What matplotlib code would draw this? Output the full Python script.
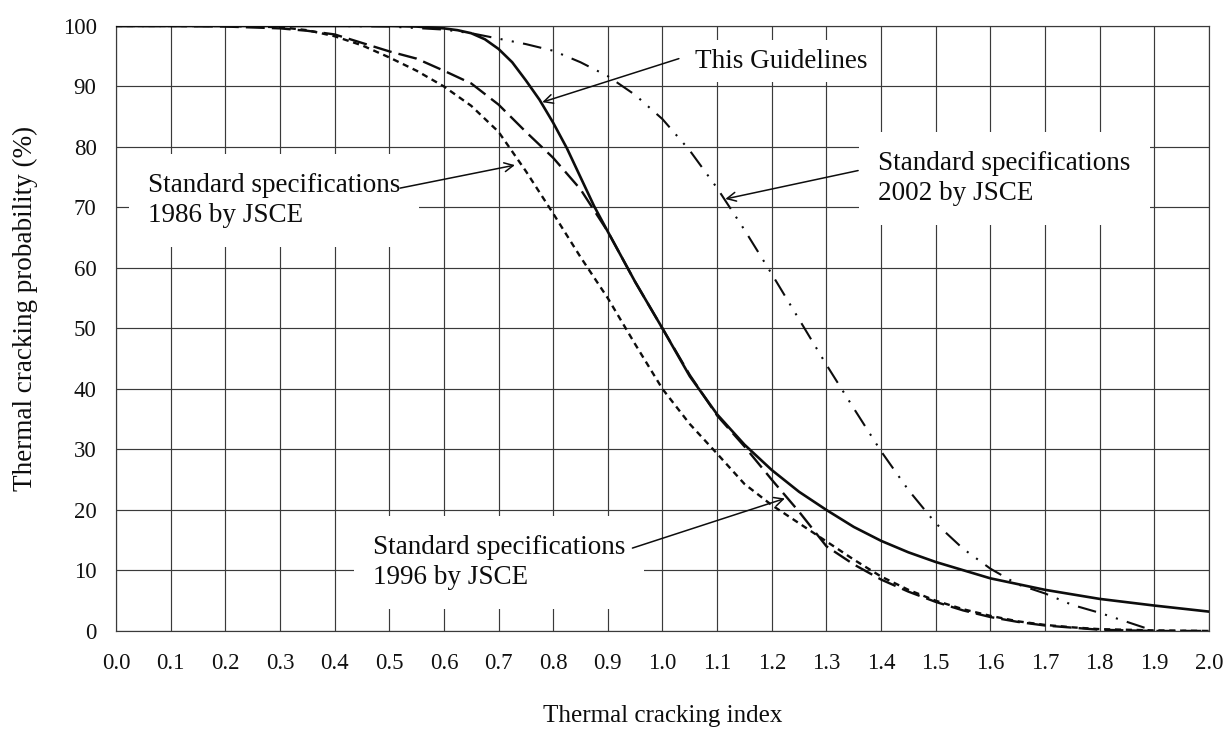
import matplotlib
matplotlib.use("Agg")
import matplotlib.pyplot as plt
from matplotlib.ticker import FormatStrFormatter

# Thermal cracking probability curves (%) against thermal cracking index
x_guide = [0.0, 0.1, 0.2, 0.3, 0.4, 0.5, 0.55, 0.6, 0.625, 0.65, 0.675, 0.7, 0.725,
           0.75, 0.775, 0.8, 0.825, 0.85, 0.875, 0.9, 0.95, 1.0, 1.05, 1.1, 1.15,
           1.2, 1.25, 1.3, 1.35, 1.4, 1.45, 1.5, 1.6, 1.7, 1.8, 1.9, 2.0]
p_guide = [100, 100, 100, 100, 100, 100, 99.9, 99.6, 99.3, 98.8, 97.8, 96.2, 94.0,
           91.0, 87.8, 84.0, 79.8, 75.0, 70.2, 66.0, 57.7, 50.0, 42.1, 35.8, 30.8,
           26.6, 23.0, 20.0, 17.2, 14.9, 13.0, 11.4, 8.7, 6.8, 5.3, 4.2, 3.2]

x_1986 = [0.0, 0.1, 0.2, 0.3, 0.35, 0.4, 0.45, 0.5, 0.55, 0.6, 0.65, 0.7, 0.75, 0.8,
          0.85, 0.9, 0.95, 1.0, 1.05, 1.1, 1.15, 1.2, 1.25, 1.3, 1.35, 1.4, 1.45,
          1.5, 1.55, 1.6, 1.65, 1.7, 1.75, 1.8, 1.9, 2.0]
p_1986 = [100, 100, 100, 99.8, 99.3, 98.3, 96.8, 94.8, 92.6, 90.0, 86.8, 82.5, 76.0,
          69.0, 61.8, 55.0, 47.4, 40.0, 34.2, 29.3, 24.3, 20.8, 17.8, 14.8, 11.8,
          9.0, 6.8, 5.0, 3.6, 2.5, 1.6, 1.0, 0.6, 0.3, 0.1, 0.0]

x_1996 = [0.0, 0.1, 0.2, 0.3, 0.35, 0.4, 0.45, 0.5, 0.55, 0.6, 0.65, 0.7, 0.75, 0.8,
          0.85, 0.9, 0.95, 1.0, 1.05, 1.1, 1.15, 1.2, 1.25, 1.3, 1.35, 1.4, 1.45,
          1.5, 1.55, 1.6, 1.65, 1.7, 1.8, 1.9, 2.0]
p_1996 = [100, 100, 99.9, 99.6, 99.2, 98.6, 97.2, 95.8, 94.6, 92.6, 90.5, 87.0, 82.5,
          78.2, 73.0, 66.0, 57.7, 50.0, 42.3, 35.6, 30.5, 25.0, 19.7, 14.0, 11.0,
          8.5, 6.5, 4.8, 3.4, 2.3, 1.5, 0.9, 0.2, 0.0, 0.0]

x_2002 = [0.0, 0.2, 0.4, 0.5, 0.6, 0.65, 0.7, 0.75, 0.8, 0.85, 0.9, 0.95, 1.0, 1.05,
          1.1, 1.15, 1.2, 1.25, 1.3, 1.35, 1.4, 1.45, 1.5, 1.55, 1.6, 1.65, 1.7,
          1.75, 1.8, 1.85, 1.9]
p_2002 = [100, 100, 100, 99.9, 99.4, 98.8, 97.9, 97.0, 95.9, 94.0, 91.7, 88.6, 84.6,
          79.4, 73.2, 66.3, 59.0, 51.5, 44.0, 36.8, 29.7, 23.3, 17.8, 13.6, 10.3,
          7.7, 6.2, 4.3, 3.0, 1.5, 0.0]

x_ticks = [round(0.1 * i, 1) for i in range(21)]
y_ticks = list(range(0, 101, 10))

plt.rcParams['font.family'] = ['Liberation Serif', 'DejaVu Serif']

fig = plt.figure(figsize=(12.25, 7.33), dpi=100)
ax = fig.add_axes([0.0947, 0.1392, 0.8922, 0.8254])

ax.set_xlim(0, 2.0)
ax.set_ylim(0, 100)
ax.set_xticks(x_ticks)
ax.set_yticks(y_ticks)
ax.xaxis.set_major_formatter(FormatStrFormatter('%.1f'))
ax.tick_params(length=0, labelsize=16.5, colors='#111111')
ax.tick_params(axis='x', pad=16)
ax.tick_params(axis='y', pad=14)
ax.grid(True, color='#3a3a3a', lw=0.85)
for s in ax.spines.values():
    s.set_color('#3a3a3a')
    s.set_linewidth(0.85)

ink = '#0d0d0d'
ax.plot(x_guide, p_guide, color=ink, lw=1.9, solid_capstyle='round', zorder=4)
ax.plot(x_1986, p_1986, color=ink, lw=1.7, linestyle=(0, (2.6, 2.0)), zorder=4)
ax.plot(x_1996, p_1996, color=ink, lw=1.7, linestyle=(0, (8.0, 3.0)), zorder=4)
ax.plot(x_2002, p_2002, color=ink, lw=1.5,
        linestyle=(0, (9.0, 4.5, 1.0, 4.5, 1.0, 4.5)), zorder=4)

box = dict(boxstyle='square,pad=0.7', fc='white', ec='none')
tsize = 19.5
lsp = 1.25
ax.text(1.06, 94.2, 'This Guidelines', fontsize=tsize, va='center', ha='left',
        color=ink, bbox=dict(boxstyle='square,pad=0.3', fc='white', ec='none'), zorder=3)
ax.text(0.058, 71.2, 'Standard specifications\n1986 by JSCE', fontsize=tsize,
        va='center', ha='left', color=ink, linespacing=lsp, bbox=box, zorder=3)
ax.text(1.395, 74.8, 'Standard specifications\n2002 by JSCE', fontsize=tsize,
        va='center', ha='left', color=ink, linespacing=lsp, bbox=box, zorder=3)
ax.text(0.47, 11.3, 'Standard specifications\n1996 by JSCE', fontsize=tsize,
        va='center', ha='left', color=ink, linespacing=lsp, bbox=box, zorder=3)

arrow = dict(arrowstyle='->', lw=1.1, color=ink, shrinkA=0, shrinkB=0,
             mutation_scale=16)
ax.annotate('', xy=(0.78, 87.4), xytext=(1.03, 94.6), arrowprops=arrow, zorder=5)
ax.annotate('', xy=(0.73, 77.0), xytext=(0.52, 73.2), arrowprops=arrow, zorder=5)
ax.annotate('', xy=(1.115, 71.4), xytext=(1.358, 76.1), arrowprops=arrow, zorder=5)
ax.annotate('', xy=(1.224, 21.9), xytext=(0.945, 13.7), arrowprops=arrow, zorder=5)

fig.text(663 / 1225, 1 - 716 / 733, 'Thermal cracking index', fontsize=18,
         ha='center', va='center', color=ink)
fig.text(25 / 1225, 1 - 308 / 733, 'Thermal cracking probability (%)', fontsize=tsize,
         ha='center', va='center', rotation=90, color=ink)

fig.savefig('out.png', dpi=100)
